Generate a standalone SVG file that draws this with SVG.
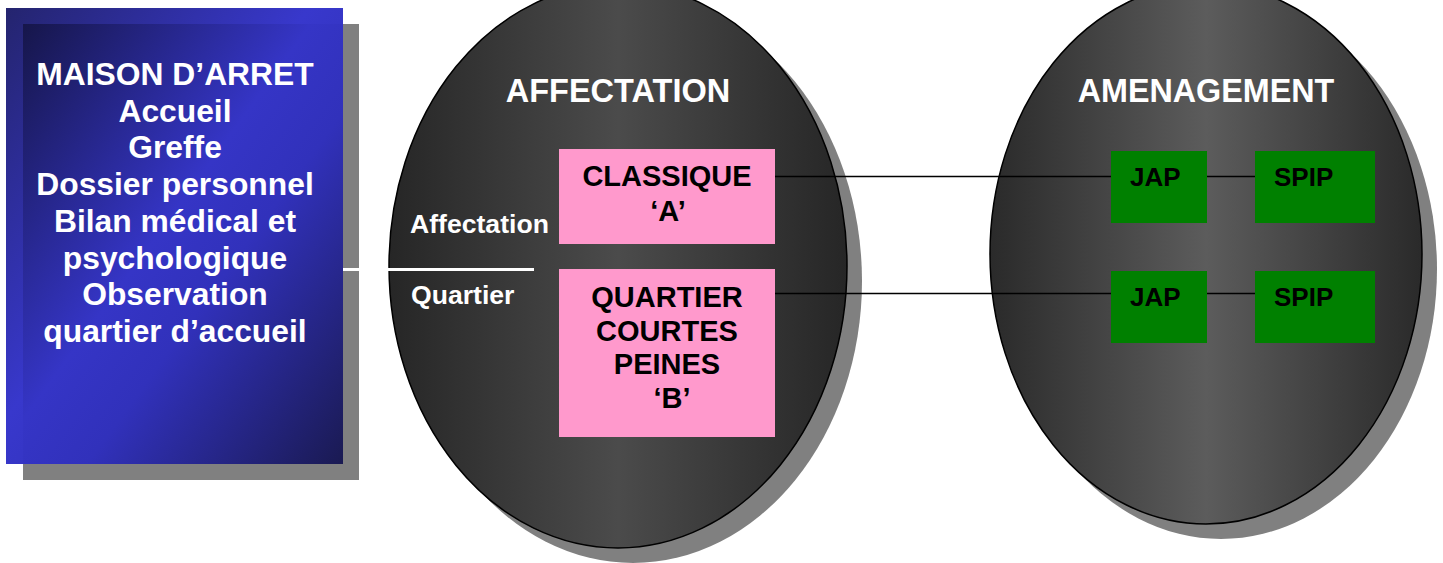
<svg xmlns="http://www.w3.org/2000/svg" width="1443" height="563" viewBox="0 0 1443 563">
  <defs>
    <linearGradient id="blueOuter" x1="0" y1="0" x2="1" y2="1">
      <stop offset="0" stop-color="#24246e"/>
      <stop offset="0.45" stop-color="#3838cc"/>
      <stop offset="0.6" stop-color="#3333bf"/>
      <stop offset="1" stop-color="#1b1b55"/>
    </linearGradient>
    <linearGradient id="blueInner" x1="0" y1="0" x2="1" y2="1">
      <stop offset="0" stop-color="#16164a"/>
      <stop offset="0.45" stop-color="#3535c6"/>
      <stop offset="0.6" stop-color="#3131bb"/>
      <stop offset="1" stop-color="#1a1a52"/>
    </linearGradient>
    <linearGradient id="greyA" x1="0" y1="0" x2="1" y2="0">
      <stop offset="0" stop-color="#262626"/>
      <stop offset="0.5" stop-color="#4b4b4b"/>
      <stop offset="1" stop-color="#262626"/>
    </linearGradient>
    <linearGradient id="greyB" x1="0" y1="0" x2="1" y2="0">
      <stop offset="0" stop-color="#2a2a2a"/>
      <stop offset="0.5" stop-color="#5c5c5c"/>
      <stop offset="1" stop-color="#2a2a2a"/>
    </linearGradient>
    <style>
      text { font-family: "Liberation Sans", Arial, sans-serif; font-weight: bold; }
      .shadow { fill: #808080; }
      .oval { stroke: #000; stroke-width: 1.5; }
      .white { fill: #fff; }
      .dark { fill: #000; }
      .pink { fill: #ff99cc; }
      .green { fill: #008000; }
      .link { stroke: #000; stroke-width: 1.6; fill: none; }
    </style>
  </defs>

  <!-- left panel: arrival in the remand prison -->
  <g id="maison-arret">
    <rect class="shadow" x="23" y="24" width="336" height="456"/>
    <rect x="6" y="8" width="337" height="456" fill="url(#blueOuter)"/>
    <rect x="23" y="24" width="320" height="440" fill="url(#blueInner)"/>
    <g class="white" font-size="31.8" text-anchor="middle">
      <text x="175" y="85">MAISON D’ARRET</text>
      <text x="175" y="121.7">Accueil</text>
      <text x="175" y="158.4">Greffe</text>
      <text x="175" y="195.1">Dossier personnel</text>
      <text x="175" y="231.8">Bilan médical et</text>
      <text x="175" y="268.5">psychologique</text>
      <text x="175" y="305.2">Observation</text>
      <text x="175" y="341.9">quartier d’accueil</text>
    </g>
  </g>

  <!-- allocation oval -->
  <g id="affectation">
    <ellipse class="shadow" cx="633" cy="281" rx="229" ry="282"/>
    <ellipse class="oval" cx="618" cy="266" rx="229" ry="282" fill="url(#greyA)"/>
    <text class="white" x="618" y="101.7" font-size="32.5" text-anchor="middle">AFFECTATION</text>
  </g>

  <!-- sentence-planning oval -->
  <g id="amenagement">
    <ellipse class="shadow" cx="1221" cy="269" rx="216" ry="270"/>
    <ellipse class="oval" cx="1206" cy="254" rx="216" ry="270" fill="url(#greyB)"/>
    <text class="white" x="1206" y="101.7" font-size="32.3" text-anchor="middle">AMENAGEMENT</text>
  </g>

  <!-- connectors -->
  <g id="connectors">
    <line x1="343" y1="269.5" x2="534" y2="269.5" stroke="#fff" stroke-width="3"/>
    <line class="link" x1="775" y1="176.5" x2="1111" y2="176.5"/>
    <line class="link" x1="1207" y1="176.5" x2="1255" y2="176.5"/>
    <line class="link" x1="775" y1="293.5" x2="1111" y2="293.5"/>
    <line class="link" x1="1207" y1="293.5" x2="1255" y2="293.5"/>
  </g>

  <!-- labels beside the split line -->
  <g id="label-affectation">
    <text class="white" x="410" y="232.7" font-size="26.6">Affectation</text>
  </g>
  <g id="label-quartier">
    <text class="white" x="411" y="304" font-size="26.6">Quartier</text>
  </g>

  <g id="classique">
    <rect class="pink" x="559" y="149" width="216" height="95"/>
    <g class="dark" font-size="29" text-anchor="middle">
      <text x="667" y="185.7">CLASSIQUE</text>
      <text x="668" y="220.7">‘A’</text>
    </g>
  </g>

  <g id="courtes-peines">
    <rect class="pink" x="559" y="269" width="216" height="168"/>
    <g class="dark" font-size="29" text-anchor="middle">
      <text x="667" y="306.7">QUARTIER</text>
      <text x="667" y="340.5">COURTES</text>
      <text x="667" y="374.3">PEINES</text>
      <text x="672" y="408">‘B’</text>
    </g>
  </g>

  <g id="jap-1">
    <rect class="green" x="1111" y="151" width="96" height="72"/>
    <text class="dark" x="1130" y="185.7" font-size="26">JAP</text>
  </g>
  <g id="spip-1">
    <rect class="green" x="1255" y="151" width="120" height="72"/>
    <text class="dark" x="1274" y="185.7" font-size="26">SPIP</text>
  </g>
  <g id="jap-2">
    <rect class="green" x="1111" y="271" width="96" height="72"/>
    <text class="dark" x="1130" y="305.7" font-size="26">JAP</text>
  </g>
  <g id="spip-2">
    <rect class="green" x="1255" y="271" width="120" height="72"/>
    <text class="dark" x="1274" y="305.7" font-size="26">SPIP</text>
  </g>
</svg>
